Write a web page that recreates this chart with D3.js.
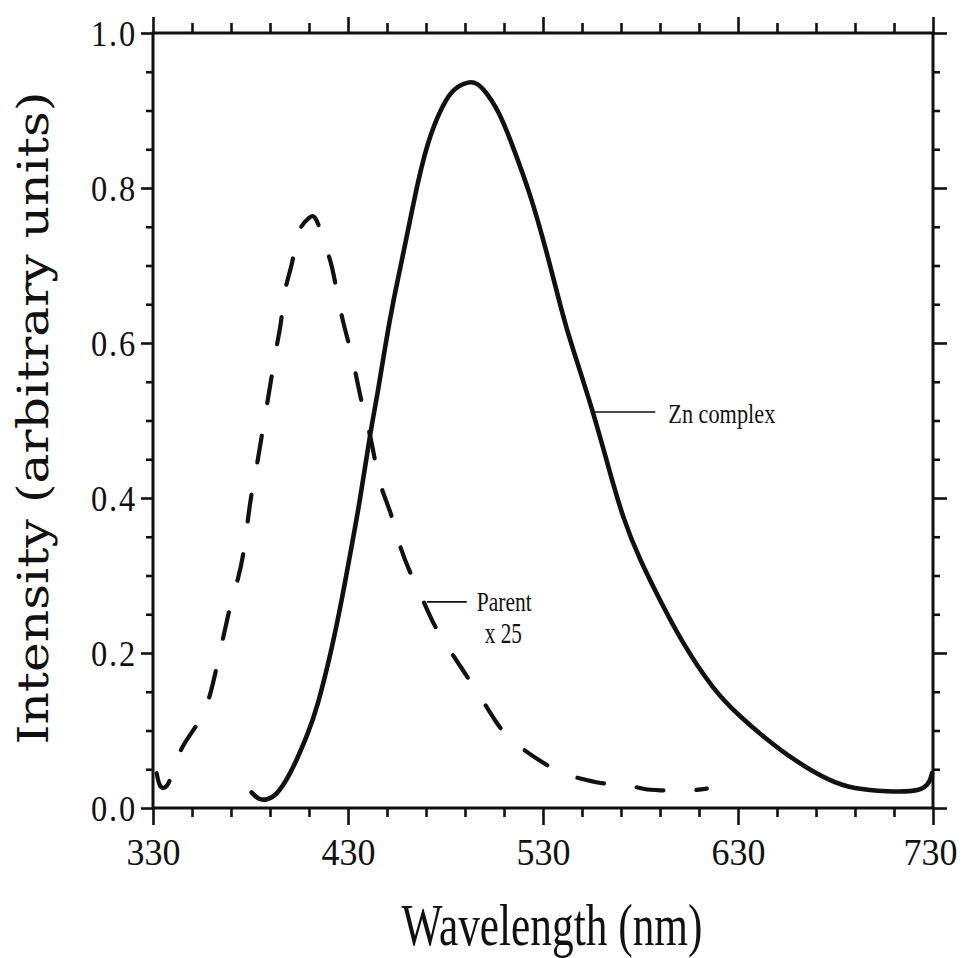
<!DOCTYPE html>
<html>
<head>
<meta charset="utf-8">
<script src="https://cdn.jsdelivr.net/npm/d3@7"></script>
<style>
body { margin: 0; background: #fff; }
svg { display: block; }
</style>
</head>
<body>
<div id="chart"></div>
<script>
// Zn complex emission (nm, arbitrary units)
const znWavelength = [380.6, 384.0, 388.3, 393.4, 398.6, 403.7, 408.8, 413.9, 421.6, 426.8,
    431.5, 436.2, 441.3, 445.5, 449.0, 453.2, 460.0, 465.9, 472.1, 480.7,
    485.8, 493.5, 498.6, 508.0, 514.6, 523.3, 531.9, 540.3, 543.8, 555.8,
    563.5, 571.2, 579.7, 590.0, 600.3, 617.3, 631.0, 643.0, 658.4, 677.4,
    689.1, 706.3, 724.2, 728.5, 729.5];
const znIntensity = [0.020, 0.011, 0.010, 0.017, 0.036, 0.062, 0.092, 0.126, 0.204, 0.268,
    0.333, 0.397, 0.483, 0.539, 0.595, 0.655, 0.735, 0.810, 0.871, 0.918,
    0.931, 0.939, 0.932, 0.897, 0.853, 0.794, 0.718, 0.634, 0.604, 0.511,
    0.440, 0.372, 0.320, 0.268, 0.218, 0.152, 0.118, 0.092, 0.062, 0.034,
    0.025, 0.021, 0.021, 0.034, 0.045];

// Parent ligand emission, already multiplied by 25
const parentWavelength = [331.9, 333.2, 335.6, 338.4, 339.6, 344.7, 355.0, 360.1, 369.5, 373.7,
    377.0, 378.6, 380.6, 383.2, 385.7, 388.3, 390.9, 392.6, 396.0, 396.8,
    401.1, 403.7, 405.4, 410.5, 413.0, 416.5, 419.1, 421.6, 424.2, 427.3,
    431.0, 434.1, 437.0, 441.3, 443.8, 446.4, 452.4, 455.8, 461.8, 468.6,
    474.6, 484.0, 491.7, 501.1, 508.8, 519.9, 530.2, 540.4, 549.8, 561.8,
    571.2, 582.3, 591.7, 602.0, 614.0];
const parentIntensity = [0.045, 0.028, 0.024, 0.032, 0.046, 0.081, 0.114, 0.148, 0.264, 0.294,
    0.335, 0.372, 0.408, 0.440, 0.479, 0.518, 0.557, 0.587, 0.627, 0.664,
    0.698, 0.735, 0.750, 0.763, 0.766, 0.741, 0.720, 0.702, 0.668, 0.627,
    0.595, 0.559, 0.522, 0.483, 0.449, 0.415, 0.380, 0.342, 0.303, 0.268,
    0.232, 0.197, 0.167, 0.131, 0.098, 0.075, 0.058, 0.043, 0.038, 0.030,
    0.032, 0.023, 0.023, 0.021, 0.025];

const xMajorTicks = [330, 430, 530, 630, 730];
const xTickLabels = ["330", "430", "530", "630", "730"];
const yMajorTicks = [0, 0.2, 0.4, 0.6, 0.8, 1.0];
const yTickLabels = ["0.0", "0.2", "0.4", "0.6", "0.8", "1.0"];

// curve labels, anchored on the curve they point at
const labelText = [["Zn complex"], ["Parent", "x 25"]];
const labelWavelength = [555.8, 470.4];
const labelIntensity = [0.511, 0.266];

const W = 964, H = 958;
const INK = "#111";
const SERIF = "'Liberation Serif', 'Times New Roman', serif";

let svg = d3.select("#chart").append("svg")
    .attr("width", W)
    .attr("height", H);

let x = d3.scaleLinear().domain([330, 730]).range([153, 933]);
let y = d3.scaleLinear().domain([0, 1]).range([808, 33]);

let xMinor = d3.range(330, 731, 20).filter(d => (d - 330) % 100 != 0);
let yMinor = d3.range(0, 21).map(d => d / 20).filter(d => d * 5 % 1 != 0);

/**
 * Draw one set of ticks (no domain line) on a side of the frame
 */
function ticks(axis, values, len, tx, ty, fmt) {
    let g = svg.append("g")
        .attr("transform", "translate(" + tx + "," + ty + ")")
        .call(axis.tickValues(values).tickSize(len).tickFormat(fmt || ""));
    g.select(".domain").remove();
    g.selectAll("line").attr("stroke", INK).attr("stroke-width", 2.6);
    return g;
}

// frame
svg.append("rect")
    .attr("x", x(330)).attr("y", y(1))
    .attr("width", x(730) - x(330)).attr("height", y(0) - y(1))
    .attr("fill", "none").attr("stroke", INK).attr("stroke-width", 3);

// bottom
ticks(d3.axisBottom(x), xMinor, 9, 0, y(0));
let bottom = ticks(d3.axisBottom(x), xMajorTicks, 17, 0, y(0), (d, i) => xTickLabels[i]);
bottom.selectAll("text")
    .attr("y", 57).attr("dy", 0)
    .attr("dx", (d, i) => i == xMajorTicks.length - 1 ? -3 : 0)
    .attr("fill", INK)
    .attr("font-family", SERIF)
    .attr("font-size", 38)
    .attr("textLength", 54)
    .attr("lengthAdjust", "spacingAndGlyphs");

// top
ticks(d3.axisTop(x), xMinor, 10, 0, y(1));
ticks(d3.axisTop(x), xMajorTicks, 16, 0, y(1));

// left
ticks(d3.axisLeft(y), yMinor, 7, x(330), 0);
let left = ticks(d3.axisLeft(y), yMajorTicks, 12, x(330), 0, (d, i) => yTickLabels[i]);
left.selectAll("text")
    .attr("x", -16).attr("dy", "0.34em")
    .attr("fill", INK)
    .attr("font-family", SERIF)
    .attr("font-size", 36)
    .attr("letter-spacing", 2)
    .attr("textLength", 46)
    .attr("lengthAdjust", "spacingAndGlyphs");

// right
ticks(d3.axisRight(y), yMinor, 7, x(730), 0);
ticks(d3.axisRight(y), yMajorTicks, 14, x(730), 0);

// axis titles
svg.append("text")
    .attr("x", 552).attr("y", 945)
    .attr("text-anchor", "middle")
    .attr("fill", INK)
    .attr("font-family", SERIF)
    .attr("font-size", 60)
    .attr("textLength", 301)
    .attr("lengthAdjust", "spacingAndGlyphs")
    .text("Wavelength (nm)");

svg.append("text")
    .attr("transform", "translate(48,418) rotate(-90)")
    .attr("text-anchor", "middle")
    .attr("fill", INK)
    .attr("font-family", "'DejaVu Serif', serif")
    .attr("font-size", 42)
    .attr("textLength", 653)
    .attr("lengthAdjust", "spacingAndGlyphs")
    .text("Intensity (arbitrary units)");

// curves
let line = d3.line()
    .x(d => x(d[0]))
    .y(d => y(d[1]))
    .curve(d3.curveBasis);

svg.append("path")
    .datum(d3.zip(parentWavelength, parentIntensity))
    .attr("d", line)
    .attr("fill", "none")
    .attr("stroke", INK)
    .attr("stroke-width", 4.2)
    .attr("stroke-linecap", "round")
    .attr("stroke-dasharray", "27,33");

svg.append("path")
    .datum(d3.zip(znWavelength, znIntensity))
    .attr("d", line)
    .attr("fill", "none")
    .attr("stroke", INK)
    .attr("stroke-width", 4.6)
    .attr("stroke-linejoin", "round")
    .attr("stroke-linecap", "round");

// labels with leaders
let leaderLen = [62, 40];
let textGap = [13, 10];
labelText.forEach((lines, i) => {
    let ax = x(labelWavelength[i]), ay = y(labelIntensity[i]);
    svg.append("line")
        .attr("x1", ax).attr("y1", ay)
        .attr("x2", ax + leaderLen[i]).attr("y2", ay)
        .attr("stroke", INK).attr("stroke-width", 1.6);
    lines.forEach((s, j) => {
        let t = svg.append("text")
            .attr("fill", INK)
            .attr("font-family", SERIF)
            .attr("lengthAdjust", "spacingAndGlyphs")
            .text(s);
        if (i == 0) {
            t.attr("x", ax + leaderLen[i] + textGap[i]).attr("y", ay + 11.5)
                .attr("font-size", 28).attr("textLength", 107);
        } else if (j == 0) {
            t.attr("x", ax + leaderLen[i] + textGap[i]).attr("y", ay + 9)
                .attr("font-size", 28).attr("textLength", 55);
        } else {
            t.attr("x", ax + leaderLen[i] + textGap[i] + 8).attr("y", ay + 41.5)
                .attr("font-size", 30).attr("textLength", 37);
        }
    });
});
</script>
</body>
</html>
